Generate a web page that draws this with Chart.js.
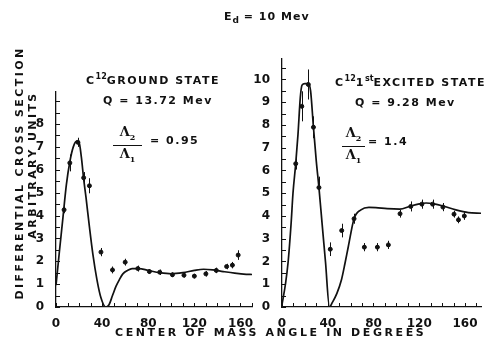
<!DOCTYPE html>
<html>
<head>
<meta charset="utf-8">
<script src="https://cdn.jsdelivr.net/npm/chart.js@4.4.0/dist/chart.umd.min.js"></script>
<style>
  body { margin: 0; background: #fff; }
  #wrap { position: relative; width: 486px; height: 341px; overflow: hidden; font-family: "DejaVu Sans", sans-serif; font-weight: bold; color: #111; }
  canvas { position: absolute; top: 0; }
  .t { position: absolute; white-space: nowrap; font-size: 11px; letter-spacing: 1.5px; }
  .rot { position: absolute; width: 280px; height: 14px; line-height: 14px; text-align: center; white-space: nowrap; font-size: 11px; transform: rotate(-90deg); }
  .frac { position: absolute; text-align: center; font-family: "DejaVu Serif", serif; font-size: 13px; line-height: 14px; }
  .frac .bar { border-top: 1.5px solid #111; margin: 1px 0; }
  sup, sub { font-size: 8px; letter-spacing: 0; }
</style>
</head>
<body>
<div id="wrap">
  <canvas id="left" width="262" height="341" style="left:0"></canvas>
  <canvas id="right" width="246" height="341" style="left:240px"></canvas>

  <div class="t" style="left:224px; top:10px; letter-spacing:1px;">E<sub style="font-size:9px">d</sub> = 10 Mev</div>

  <div class="t" style="left:86px; top:72px;">C<sup>12</sup>GROUND STATE</div>
  <div class="t" style="left:103px; top:94px;">Q = 13.72 Mev</div>
  <div class="frac" style="left:113px; top:125px; width:29px;">Λ<sub>2</sub><div class="bar"></div>Λ<sub>1</sub></div>
  <div class="t" style="left:150px; top:134px;">= 0.95</div>

  <div class="t" style="left:335px; top:74px;">C<sup>12</sup>1<sup>st</sup>EXCITED STATE</div>
  <div class="t" style="left:355px; top:96px;">Q = 9.28 Mev</div>
  <div class="frac" style="left:342px; top:126px; width:23px;">Λ<sub>2</sub><div class="bar"></div>Λ<sub>1</sub></div>
  <div class="t" style="left:368px; top:135px;">= 1.4</div>

  <div class="t" style="left:115px; top:326px; letter-spacing:2.6px;">CENTER OF MASS ANGLE IN DEGREES</div>
  <div class="rot" style="left:-120px; top:166px; letter-spacing:2.4px;">DIFFERENTIAL CROSS SECTION</div>
  <div class="rot" style="left:-107px; top:158px; letter-spacing:2.4px;">ARBITRARY UNITS</div>
</div>
<script>
// ground state, measured points
var angL = [7, 12, 19, 24, 29, 39, 49, 60, 71, 81, 90, 101, 111, 120, 130, 139, 148, 153, 158];
var valL = [4.25, 6.3, 7.2, 5.65, 5.3, 2.4, 1.62, 1.96, 1.68, 1.55, 1.52, 1.41, 1.39, 1.35, 1.45, 1.6, 1.77, 1.83, 2.27];
var errL = [0.15, 0.37, 0.2, 0.25, 0.33, 0.18, 0.15, 0.15, 0.13, 0.1, 0.12, 0.1, 0.1, 0.1, 0.12, 0.12, 0.12, 0.14, 0.21];
// ground state, theory curve
var curveAngL = [0, 3, 6, 9, 12, 15, 18, 20, 22, 24, 26, 29, 32, 35.5, 39, 43, 46, 49, 52, 55, 58, 62, 66, 72, 80, 90, 100, 110, 120, 128, 136, 145, 155, 165, 170];
var curveValL = [0.95, 2.45, 3.9, 5.35, 6.35, 7.0, 7.25, 7.2, 6.55, 5.6, 4.8, 3.5, 2.3, 1.2, 0.4, 0, 0.1, 0.5, 0.9, 1.2, 1.45, 1.6, 1.68, 1.68, 1.6, 1.5, 1.45, 1.5, 1.6, 1.65, 1.62, 1.55, 1.48, 1.43, 1.42];

// first excited state, measured points
var angR = [12, 17.3, 23, 27.5, 32.3, 42.2, 52.2, 63, 72, 83.4, 93, 103.2, 112.6, 122.3, 131.7, 140.7, 150.4, 154.3, 159.4];
var valR = [6.3, 8.82, 9.78, 7.9, 5.25, 2.54, 3.36, 3.88, 2.63, 2.63, 2.73, 4.1, 4.42, 4.52, 4.52, 4.39, 4.08, 3.83, 4.0];
var errR = [0.26, 0.66, 0.66, 0.48, 0.48, 0.3, 0.3, 0.22, 0.18, 0.18, 0.18, 0.17, 0.22, 0.2, 0.2, 0.18, 0.15, 0.15, 0.17];
// first excited state, theory curve
var curveAngR = [0, 3, 5.4, 8, 9.6, 12, 14, 16, 17.5, 20, 23, 25, 27.5, 30, 32.3, 35, 38, 41.5, 44, 48, 52, 55, 58, 63, 69, 76, 82, 92, 103, 112, 120, 126, 133, 140, 152, 163, 174];
var curveValR = [0.1, 1.0, 2.0, 3.7, 5.0, 6.3, 7.6, 9.2, 9.75, 9.82, 9.82, 9.5, 7.9, 6.4, 5.25, 3.7, 2.0, 0, 0.2, 0.6, 1.2, 1.9, 2.66, 3.88, 4.27, 4.38, 4.37, 4.32, 4.3, 4.43, 4.53, 4.57, 4.53, 4.45, 4.27, 4.15, 4.12];

var xLabels = [0, 40, 80, 120, 160];

Chart.defaults.font.family = '"DejaVu Sans", sans-serif';
Chart.defaults.font.weight = 'bold';
Chart.defaults.color = '#111';

function pts(xs, ys) {
	var out = [];
	for (var i = 0; i < xs.length; i++) out.push({x: xs[i], y: ys[i]});
	return out;
}

// error bars + inward tick marks
var extras = {
	id: 'extras',
	afterDatasetsDraw: function(chart) {
		var ctx = chart.ctx, xs = chart.scales.x, ys = chart.scales.y;
		ctx.save();
		ctx.strokeStyle = '#111';
		ctx.lineWidth = 1;
		chart.data.datasets.forEach(function(ds) {
			if (!ds.errs) return;
			ds.data.forEach(function(p, i) {
				var px = Math.round(xs.getPixelForValue(p.x)) + 0.5;
				ctx.beginPath();
				ctx.moveTo(px, ys.getPixelForValue(p.y + ds.errs[i]));
				ctx.lineTo(px, ys.getPixelForValue(p.y - ds.errs[i]));
				ctx.stroke();
			});
		});
		var a = chart.chartArea;
		xs.ticks.forEach(function(t) {
			var px = Math.round(xs.getPixelForValue(t.value)) + 0.5;
			ctx.beginPath();
			ctx.moveTo(px, a.bottom);
			ctx.lineTo(px, a.bottom - 4);
			ctx.stroke();
		});
		ys.ticks.forEach(function(t) {
			var py = Math.round(ys.getPixelForValue(t.value)) + 0.5;
			ctx.beginPath();
			ctx.moveTo(a.left, py);
			ctx.lineTo(a.left + 4, py);
			ctx.stroke();
		});
		ctx.restore();
	}
};

function makeChart(id, angs, vals, errs, cAng, cVal, xMax, yMax, yLabelMax, yWidth, pad) {
	return new Chart(document.getElementById(id), {
		type: 'scatter',
		data: {
			datasets: [
				{ data: pts(cAng, cVal), showLine: true, borderColor: '#111', borderWidth: 1.7,
				  pointRadius: 0, cubicInterpolationMode: 'monotone' },
				{ data: pts(angs, vals), errs: errs, backgroundColor: '#111', borderColor: '#111',
				  pointRadius: 2, pointStyle: 'circle' }
			]
		},
		options: {
			responsive: false,
			animation: false,
			layout: { padding: pad },
			plugins: { legend: { display: false }, tooltip: { enabled: false } },
			scales: {
				x: {
					type: 'linear', min: 0, max: xMax,
					grid: { display: false },
					border: { display: true, color: '#111', width: 1.3 },
					afterFit: function(s) { s.height = 34; },
					afterBuildTicks: function(s) {
						var t = [];
						for (var v = 0; v <= xMax; v += 10) t.push({value: v});
						s.ticks = t;
					},
					ticks: {
						autoSkip: false, maxRotation: 0, padding: 2,
						font: { size: 12, weight: 'bold' },
						callback: function(v) { return xLabels.indexOf(v) >= 0 ? String(v) : ''; }
					}
				},
				y: {
					type: 'linear', min: 0, max: yMax,
					grid: { display: false },
					border: { display: true, color: '#111', width: 1.3 },
					afterFit: function(s) { s.width = yWidth; },
					afterBuildTicks: function(s) {
						var t = [];
						for (var v = 0; v <= yMax + 1e-9; v += 0.5) t.push({value: v});
						s.ticks = t;
					},
					ticks: {
						autoSkip: false, padding: 4,
						font: { size: 12, weight: 'bold' },
						callback: function(v) { return (v % 1 === 0 && v <= yLabelMax) ? String(v) : ''; }
					}
				}
			}
		},
		plugins: [extras]
	});
}

makeChart('left', angL, valL, errL, curveAngL, curveValL, 170, 9.4, 8, 56, {left: 0, top: 92, right: 10, bottom: 0});
makeChart('right', angR, valR, errR, curveAngR, curveValR, 174, 10.9, 10, 42, {left: 0, top: 59, right: 0, bottom: 0});
</script>
</body>
</html>
